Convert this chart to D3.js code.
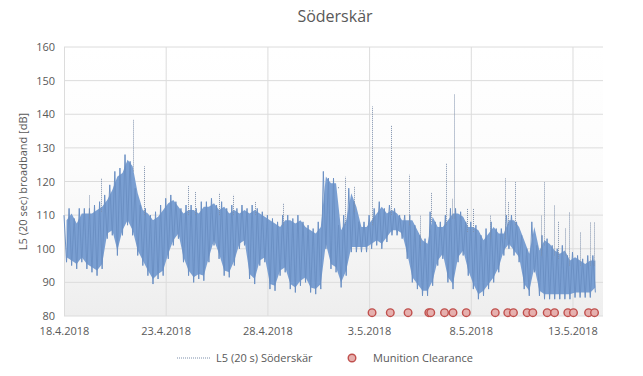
<!DOCTYPE html>
<html>
<head>
<meta charset="utf-8">
<script src="https://cdn.jsdelivr.net/npm/d3@7"></script>
<style>
  body { margin: 0; background: #fff; }
  svg text { font-family: "Open Sans", sans-serif; fill: #595959; }
</style>
</head>
<body>
<div id="chart"></div>
<script>
// 6-hour windows starting 18.4.2018 00:00, lowest / highest L5 level seen in each
var startDate = "2018-04-18T00:00";
var windowHours = 6;
var lowValues = [
    96, 95, 94, 96,   94, 93, 92, 94,   103, 104, 98, 104,   107, 104, 98, 95,
    92, 89.5, 91, 92,   97, 101, 103, 96,   92, 90, 91, 90.5,   96, 101, 97, 92,
    91.5, 95, 100, 101,   91, 89.5, 95, 96,   88, 87.5, 92, 93,   88, 87, 89, 90,
    87, 86.5, 88, 100,   94, 93, 88.5, 92,   99, 99, 99, 99,   100, 101, 100, 102,
    104, 104, 103, 97,   90, 88, 86, 86,   89, 95, 97, 90,   88, 96, 98, 92,
    88, 85, 86, 88,   90, 93, 98, 100,   98, 96, 88, 86,   93, 86, 85, 85,
    85, 85, 85, 85,   85.5, 85.5, 85.5, 85.5,   87
];
var highValues = [
    110, 112, 109, 112,   112, 112, 113, 114,   116, 119, 123, 124,   128, 126, 118, 113,
    112, 110, 111, 113,   115, 116, 114, 112,   113, 113, 112, 114,   114, 115, 113, 114,
    112, 113, 112, 113,   112, 113, 112, 111,   110, 109, 108, 110,   110, 109, 110, 108,
    107, 106, 108, 123,   121, 121, 107, 110,   118, 114, 108, 108,   110, 112, 114, 112,
    113, 112, 110, 110,   110, 107, 104, 103,   111, 108, 108, 110,   112, 112, 111, 108,
    108, 107, 104, 106,   108, 106, 106, 110,   110, 108, 104, 100,   108, 101, 104, 103,
    101, 100, 101, 98,   99, 98, 97, 98,   98
];

// short peaks above the band: time, level [dB]
var peakTimes = [
    "2018-04-19T06:00", "2018-04-19T20:00", "2018-04-21T09:40", "2018-04-21T22:20",
    "2018-04-24T02:30", "2018-04-24T10:00", "2018-04-25T14:30", "2018-04-26T07:00",
    "2018-04-27T09:40", "2018-04-28T18:00", "2018-05-01T19:10", "2018-05-01T11:00",
    "2018-05-02T06:00", "2018-05-03T03:40", "2018-05-04T01:30", "2018-05-04T23:00",
    "2018-05-05T12:00", "2018-05-06T01:00", "2018-05-06T19:10", "2018-05-07T02:20",
    "2018-05-07T03:40", "2018-05-07T19:00", "2018-05-08T02:30", "2018-05-08T22:50",
    "2018-05-09T15:50", "2018-05-09T20:20", "2018-05-10T03:40", "2018-05-11T10:50",
    "2018-05-11T14:20", "2018-05-12T02:20", "2018-05-12T07:10", "2018-05-12T15:40",
    "2018-05-12T20:20", "2018-05-13T08:20", "2018-05-13T20:20", "2018-05-14T01:10"
];
var peakValues = [
    116, 121, 138.5, 124.5,
    118.7, 117, 116.6, 116,
    114, 113.6, 121.4, 118.4,
    118.4, 142.3, 136.8, 122,
    110, 116.6, 125.5, 115,
    146, 112, 112, 110,
    121, 114, 120, 110,
    120, 113, 108, 106,
    111, 105, 108, 108
];

// munition clearance events
var clearanceTimes = [
    "2018-05-03T03:30", "2018-05-04T01:00", "2018-05-04T22:00", "2018-05-05T22:30",
    "2018-05-06T00:45", "2018-05-06T17:00", "2018-05-07T03:00", "2018-05-07T18:40",
    "2018-05-09T04:50", "2018-05-09T19:40", "2018-05-10T02:20", "2018-05-10T18:30",
    "2018-05-11T01:10", "2018-05-11T18:10", "2018-05-12T02:50", "2018-05-12T18:30",
    "2018-05-13T01:10", "2018-05-13T19:00", "2018-05-14T02:00"
];
var clearanceLevel = 81;

var xTickDates = ["2018-04-18", "2018-04-23", "2018-04-28", "2018-05-03", "2018-05-08", "2018-05-13"];
var xTickLabels = ["18.4.2018", "23.4.2018", "28.4.2018", "3.5.2018", "8.5.2018", "13.5.2018"];
var yTicks = [80, 90, 100, 110, 120, 130, 140, 150, 160];

var width = 643, height = 376;
var margin = {top: 47, right: 40, bottom: 60, left: 64};
var plotW = width - margin.left - margin.right,
    plotH = height - margin.top - margin.bottom;

var parse = d3.timeParse("%Y-%m-%dT%H:%M");
var parseDay = d3.timeParse("%Y-%m-%d");
var t0 = parse(startDate);

var x = d3.scaleTime()
    .domain([parseDay("2018-04-18"), parse("2018-05-14T12:00")])
    .range([0, plotW]);
var y = d3.scaleLinear().domain([80, 160]).range([plotH, 0]);

var svg = d3.select("#chart").append("svg")
    .attr("width", width)
    .attr("height", height);

var defs = svg.append("defs");
var grad = defs.append("linearGradient")
    .attr("id", "bg").attr("x1", 0).attr("y1", 0).attr("x2", 0).attr("y2", 1);
grad.append("stop").attr("offset", "0%").attr("stop-color", "#ffffff");
grad.append("stop").attr("offset", "45%").attr("stop-color", "#fcfcfc");
grad.append("stop").attr("offset", "100%").attr("stop-color", "#eeeeee");

svg.append("text")
    .attr("x", 335).attr("y", 22)
    .style("text-anchor", "middle")
    .style("font-size", "16px")
    .text("Söderskär");

var g = svg.append("g")
    .attr("transform", "translate(" + margin.left + "," + margin.top + ")");

g.append("rect")
    .attr("width", plotW).attr("height", plotH)
    .attr("fill", "url(#bg)");

// grid
g.selectAll(".hgrid").data(yTicks).enter().append("line")
    .attr("x1", 0).attr("x2", plotW)
    .attr("y1", d => y(d)).attr("y2", d => y(d))
    .attr("stroke", "#dcdcdc").attr("stroke-width", 1);
g.selectAll(".vgrid").data(xTickDates).enter().append("line")
    .attr("x1", d => x(parseDay(d)) + 0.5).attr("x2", d => x(parseDay(d)) + 0.5)
    .attr("y1", 0).attr("y2", plotH)
    .attr("stroke", "#dcdcdc").attr("stroke-width", 1);

// axes
var xAxis = d3.axisBottom(x)
    .tickValues(xTickDates.map(parseDay))
    .tickFormat((d, i) => xTickLabels[i])
    .tickSize(0).tickPadding(11);
var yAxis = d3.axisLeft(y)
    .tickValues(yTicks)
    .tickSize(0).tickPadding(9);

var gx = g.append("g").attr("transform", "translate(0," + plotH + ")").call(xAxis);
var gy = g.append("g").call(yAxis);
[gx, gy].forEach(function(a) {
    a.select(".domain").remove();
    a.selectAll("text").style("font-size", "11px").style("fill", "#595959")
        .style("font-family", "'Open Sans', sans-serif");
});

svg.append("text")
    .attr("transform", "translate(27," + (margin.top + plotH / 2) + ") rotate(-90)")
    .style("text-anchor", "middle")
    .style("font-size", "11px")
    .text("L5 (20 sec) broadband [dB]");

// series: dense 20 s record drawn as its 6 h envelope plus a min/max trace
var windows = lowValues.map(function(lo, i) {
    return {t: d3.timeHour.offset(t0, i * windowHours), lo: lo, hi: highValues[i]};
});

var band = d3.area()
    .x(d => x(d3.timeHour.offset(d.t, 3)))
    .y0(d => y(d.lo + 1.5))
    .y1(d => y(d.hi - 1.5));
g.append("path").datum(windows)
    .attr("d", band)
    .attr("fill", "#7a9fd2");

var zig = [];
windows.forEach(function(d) {
    zig.push([d.t, d.hi]);
    zig.push([d3.timeHour.offset(d.t, 3), d.lo]);
});
g.append("path").datum(zig)
    .attr("d", d3.line().x(d => x(d[0])).y(d => y(d[1])))
    .attr("fill", "none")
    .attr("stroke", "#6b90c4")
    .attr("stroke-width", 1);

g.selectAll(".peak").data(peakTimes).enter().append("line")
    .attr("x1", d => Math.round(x(parse(d))) + 0.5).attr("x2", d => Math.round(x(parse(d))) + 0.5)
    .attr("y1", function(d) {
        var w = Math.floor((parse(d) - t0) / (windowHours * 3600e3));
        return y(windows[Math.min(w, windows.length - 1)].hi - 3);
    })
    .attr("y2", (d, i) => y(peakValues[i]))
    .attr("stroke", "#7d8fab")
    .attr("stroke-width", 1)
    .attr("stroke-dasharray", "1,1");

// munition clearance
g.selectAll(".mc").data(clearanceTimes).enter().append("circle")
    .attr("cx", d => x(parse(d)))
    .attr("cy", y(clearanceLevel))
    .attr("r", 3.8)
    .attr("fill", "#e6b0ae")
    .attr("stroke", "#c0504d")
    .attr("stroke-width", 1.4);

// legend
var lg = svg.append("g").attr("transform", "translate(0,358)");
lg.append("line")
    .attr("x1", 177).attr("x2", 210).attr("y1", 0).attr("y2", 0)
    .attr("stroke", "#7d8fab").attr("stroke-width", 1).attr("stroke-dasharray", "1,1");
lg.append("text").attr("x", 216).attr("y", 4).style("font-size", "11px").text("L5 (20 s) Söderskär");
lg.append("circle").attr("cx", 352).attr("cy", 0).attr("r", 3.8)
    .attr("fill", "#e6b0ae").attr("stroke", "#c0504d").attr("stroke-width", 1.4);
lg.append("text").attr("x", 373).attr("y", 4).style("font-size", "11px").text("Munition Clearance");
</script>
</body>
</html>
